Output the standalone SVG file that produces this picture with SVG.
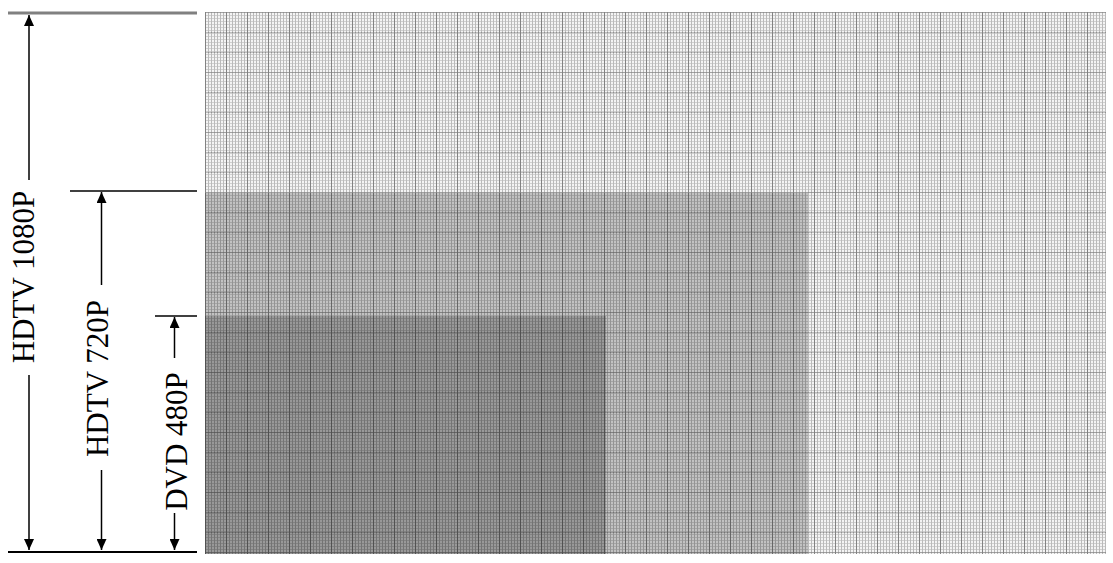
<svg xmlns="http://www.w3.org/2000/svg" width="1113" height="563" viewBox="0 0 1113 563">
  <style>
    .lbl { font-family: "Liberation Serif", "Times New Roman", serif; font-size: 31px; fill: #000; text-anchor: middle; }
    .dim { stroke: #000; stroke-width: 1.5; fill: none; }
    .tick { stroke: #000; stroke-width: 1.5; }
  </style>
  <defs>
    <marker id="ah" viewBox="0 0 11 10" refX="11" refY="5" markerWidth="11" markerHeight="10" markerUnits="userSpaceOnUse" orient="auto-start-reverse">
      <path d="M0,0 L11,5 L0,10 z" fill="#000"/>
    </marker>
    <pattern id="minor" x="205" y="12" width="3" height="3" patternUnits="userSpaceOnUse">
      <rect x="0" y="0" width="1" height="3" fill="#000" fill-opacity="0.24"/>
      <rect x="1" y="0" width="2" height="1" fill="#000" fill-opacity="0.15"/>
    </pattern>
    <pattern id="major" x="205" y="12" width="21" height="20" patternUnits="userSpaceOnUse">
      <rect x="0" y="0" width="1" height="20" fill="#000" fill-opacity="0.3"/>
      <rect x="1" y="0" width="20" height="1" fill="#000" fill-opacity="0.22"/>
    </pattern>
  </defs>
  <rect width="1113" height="563" fill="#fff"/>

  <g id="frame-1080">
    <rect x="205" y="12" width="901" height="542" fill="#f4f4f4"/>
  </g>
  <g id="frame-720">
    <rect x="205" y="193" width="603" height="361" fill="#c2c2c2"/>
  </g>
  <g id="frame-480">
    <rect x="205" y="316" width="401" height="238" fill="#999"/>
  </g>
  <g id="grid">
    <rect x="205" y="12" width="901" height="542" fill="url(#minor)"/>
    <rect x="205" y="12" width="901" height="542" fill="url(#major)"/>
  </g>

  <g id="connectors">
    <line x1="8" y1="13" x2="197" y2="13" stroke="#808080" stroke-width="3"/>
    <line class="tick" x1="70" y1="191" x2="197" y2="191"/>
    <line class="tick" x1="155" y1="316" x2="197" y2="316"/>
    <line x1="8" y1="552" x2="197" y2="552" stroke="#000" stroke-width="2"/>

    <line class="dim" x1="29" y1="180" x2="29" y2="15" marker-end="url(#ah)"/>
    <line class="dim" x1="29" y1="375" x2="29" y2="550" marker-end="url(#ah)"/>

    <line class="dim" x1="101.5" y1="285" x2="101.5" y2="192" marker-end="url(#ah)"/>
    <line class="dim" x1="101.5" y1="470" x2="101.5" y2="550" marker-end="url(#ah)"/>

    <line class="dim" x1="174.5" y1="358" x2="174.5" y2="317" marker-end="url(#ah)"/>
    <line class="dim" x1="174.5" y1="513" x2="174.5" y2="550" marker-end="url(#ah)"/>
  </g>

  <g id="label-1080">
    <text class="lbl" transform="translate(33.5,277) rotate(-90)">HDTV 1080P</text>
  </g>
  <g id="label-720">
    <text class="lbl" transform="translate(108,378.5) rotate(-90)">HDTV 720P</text>
  </g>
  <g id="label-480">
    <text class="lbl" transform="translate(187,441.5) rotate(-90)">DVD 480P</text>
  </g>
</svg>
